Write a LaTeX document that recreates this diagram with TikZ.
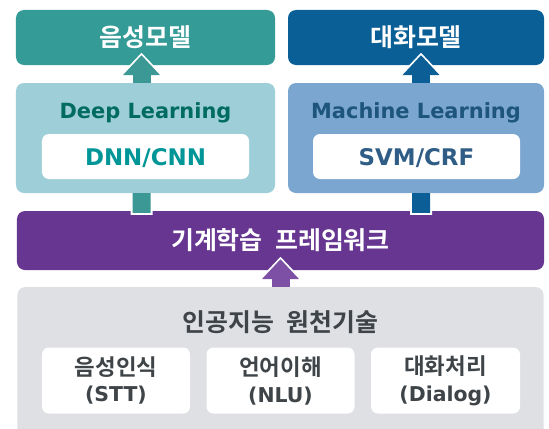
\documentclass[tikz,border=0pt]{standalone}
\usepackage{fontspec}
\setmainfont{DejaVu Sans}
\newfontfamily\kr{Noto Sans CJK KR}[UprightFont=* Bold, BoldFont=* Bold, WordSpace=2.2]
\usetikzlibrary{arrows.meta,calc}
%
\definecolor{tealtop}{RGB}{53,155,151}
\definecolor{bluetop}{RGB}{10,95,150}
\definecolor{tealmid}{RGB}{158,207,217}
\definecolor{bluemid}{RGB}{122,166,207}
\definecolor{tealdark}{RGB}{0,107,98}
\definecolor{tealtext}{RGB}{0,150,152}
\definecolor{bluedark}{RGB}{30,85,125}
\definecolor{bluetext}{RGB}{47,93,133}
\definecolor{tealarrow}{RGB}{60,152,148}
\definecolor{bluearrow}{RGB}{11,95,150}
\definecolor{purpleframe}{RGB}{103,54,145}
\definecolor{purplearrow}{RGB}{125,80,165}
\definecolor{grayback}{RGB}{223,224,228}
\definecolor{graytext}{RGB}{62,68,72}
%
\tikzset{
  box/.style={rounded corners=8bp, inner sep=0pt},
  inbox/.style={box, fill=white, rounded corners=7bp},
  krtitle/.style={text=white, font={\kr\fontsize{25}{28}\selectfont}},
  entitle/.style={anchor=base, font={\bfseries\fontsize{21}{24}\selectfont}},
  inlabel/.style={anchor=base, font={\bfseries\fontsize{23}{26}\selectfont}},
  krlabel/.style={text=graytext, align=center, font={\bfseries\fontsize{20.5}{27}\selectfont}},
  upblock/.style={line width=18bp, -{Triangle[length=20bp,width=36bp]},
    preaction={draw=white, line width=22bp, shorten >=-2.5bp,
               -{Triangle[length=23bp,width=42bp]}}},
  barblock/.style={line width=18bp,
    preaction={draw=white, line width=22bp, shorten >=-2bp}},
}
%
\begin{document}
\begin{tikzpicture}[x=1bp,y=1bp]
\useasboundingbox (0,0) rectangle (549,428);
\clip (0,0) rectangle (549,428);
%
% Modeles
\node [box, fill=tealtop, minimum width=259bp, minimum height=55bp, krtitle]
      (sm) at (145.5,390.5) {음성모델};
\node [box, fill=bluetop, minimum width=256bp, minimum height=55bp, krtitle]
      (dm) at (416,390.5) {대화모델};
%
% Apprentissage
\node [box, fill=tealmid, minimum width=259bp, minimum height=110bp] (dl) at (145.5,290) {};
\node [entitle, text=tealdark] (dllbl) at (145.5,310) {Deep Learning};
\node [inbox, minimum width=207bp, minimum height=45bp] (dnn) at (145.5,271.5) {};
\node [inlabel, text=tealtext] (dnnlbl) at (145.5,263) {DNN/CNN};
%
\node [box, fill=bluemid, minimum width=256bp, minimum height=110bp] (ml) at (416,290) {};
\node [entitle, text=bluedark] (mllbl) at (416,310) {Machine Learning};
\node [inbox, minimum width=207bp, minimum height=45bp] (svm) at (416.5,271.5) {};
\node [inlabel, text=bluetext] (svmlbl) at (416.5,263) {SVM/CRF};
%
% Cadre
\node [box, fill=purpleframe, minimum width=527bp, minimum height=59bp, krtitle]
      (fw) at (280.5,187.5) {기계학습 프레임워크};
%
% Technologies
\node [box, fill=grayback, minimum width=526bp, minimum height=158bp] (ai) at (280.5,62) {};
\node [krtitle, text=graytext] (ailbl) at (280.5,106) {인공지능 원천기술};
\node [inbox, minimum width=148bp, minimum height=66bp] (stt) at (116,47.5) {};
\node [krlabel] (sttlbl) at (stt) {{\kr\fontsize{22.5}{27}\selectfont 음성인식}\\(STT)};
\node [inbox, minimum width=148bp, minimum height=66bp] (nlu) at (280.5,47.5) {};
\node [krlabel] (nlulbl) at (nlu) {{\kr\fontsize{22.5}{27}\selectfont 언어이해}\\(NLU)};
\node [inbox, minimum width=149bp, minimum height=66bp] (dlg) at (445.5,47.5) {};
\node [krlabel] (dlglbl) at (dlg) {{\kr\fontsize{22.5}{27}\selectfont 대화처리}\\(Dialog)};
%
% Fleches
\draw [upblock, draw=tealarrow] ([xshift=-4bp]dl.north) -- ([xshift=-4bp,yshift=10bp]sm.south);
\draw [upblock, draw=bluearrow]  ([xshift=5bp]ml.north) -- ([xshift=5bp,yshift=10bp]dm.south);
\draw [barblock, draw=tealarrow] ([xshift=-4bp]dl.south) -- ($(dl.south |- fw.north)+(-4,-2)$);
\draw [barblock, draw=bluearrow] ([xshift=5bp]ml.south) -- ($(ml.south |- fw.north)+(5,-2)$);
\draw [upblock, draw=purplearrow] (ai.north) -- ([yshift=11bp]fw.south);
%
\end{tikzpicture}
\end{document}
